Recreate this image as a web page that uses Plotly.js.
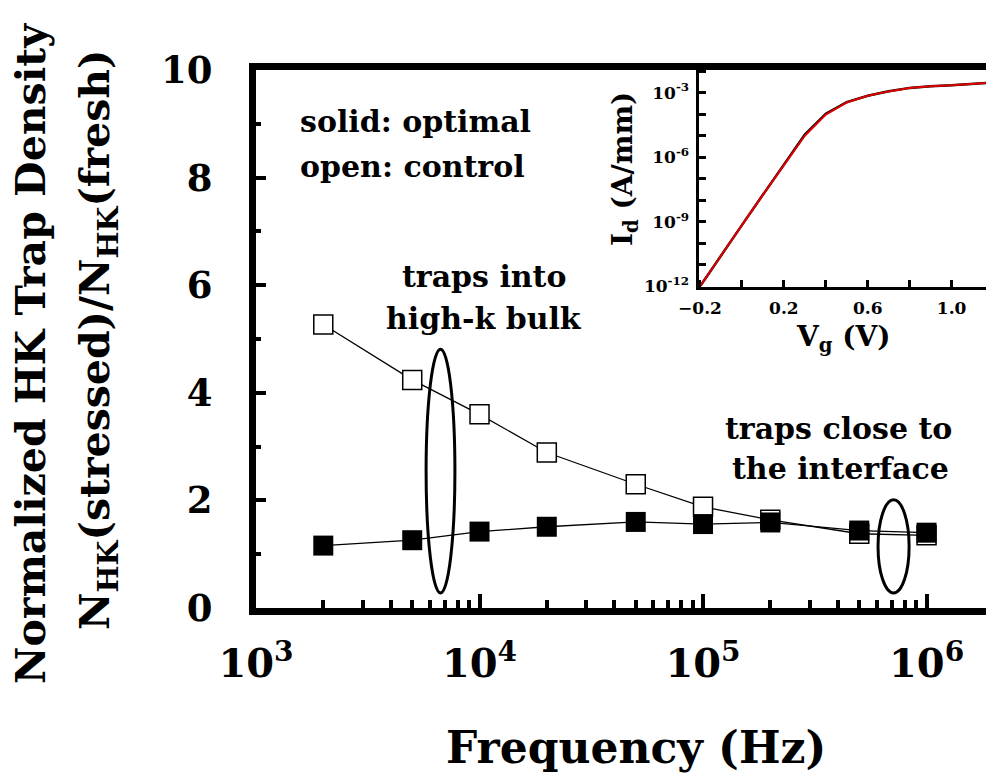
<!DOCTYPE html>
<html><head><meta charset="utf-8">
<script src="https://cdn.plot.ly/plotly-3.0.1.min.js"></script>
<style>html,body{margin:0;padding:0;background:#fff}#chart{width:986px;height:783px}</style>
</head><body><div id="chart"></div>
<script>
// Main chart data
const freqHz = [2e3, 5e3, 1e4, 2e4, 5e4, 1e5, 2e5, 5e5, 1e6];
const controlOpen = [5.27, 4.24, 3.60, 2.89, 2.30, 1.88, 1.64, 1.38, 1.35];
const optimalSolid = [1.16, 1.26, 1.42, 1.51, 1.60, 1.56, 1.59, 1.44, 1.40];
// Inset data (Id-Vg)
const insetVg = [-0.2, -0.1, 0.0, 0.1, 0.2, 0.3, 0.4, 0.5, 0.6, 0.7, 0.8, 0.9, 1.0, 1.1, 1.2];
const insetIdBlack = [1.0e-12, 2.5e-11, 7.1e-10, 1.8e-8, 4.5e-7, 1.12e-5, 1.05e-4, 3.6e-4, 7.2e-4, 1.15e-3, 1.66e-3, 2.0e-3, 2.2e-3, 2.6e-3, 2.95e-3];
const insetIdRed = [1.0e-12, 2.5e-11, 7.1e-10, 1.8e-8, 4.5e-7, 1.0e-5, 9.5e-5, 3.5e-4, 7.1e-4, 1.14e-3, 1.65e-3, 2.0e-3, 2.2e-3, 2.6e-3, 2.95e-3];
// Tick labels
const insetYTickVals = [1e-12, 1e-9, 1e-6, 1e-3];
const insetYTickText = ['10<sup>-12</sup>', '10<sup>-9</sup>', '10<sup>-6</sup>', '10<sup>-3</sup>'];

const FONT = 'DejaVu Serif';
const L = 256, T = 70, B = 175, W = 986, H = 783;
const PW = W - L, PH = H - T - B;
const px = X => (X - L) / PW;
const py = Y => (H - B - Y) / PH;

const traces = [
  {x: freqHz, y: controlOpen, type: 'scatter', mode: 'lines+markers', xaxis: 'x', yaxis: 'y',
   line: {color: 'black', width: 1.3},
   marker: {symbol: 'square', size: 19, color: 'white', line: {color: 'black', width: 1.5}}},
  {x: freqHz, y: optimalSolid, type: 'scatter', mode: 'lines+markers', xaxis: 'x', yaxis: 'y',
   line: {color: 'black', width: 1.3},
   marker: {symbol: 'square', size: 20, color: 'black', line: {width: 0}}},
  {x: insetVg, y: insetIdBlack, type: 'scatter', mode: 'lines', xaxis: 'x2', yaxis: 'y2',
   line: {color: 'black', width: 2.5}},
  {x: insetVg, y: insetIdRed, type: 'scatter', mode: 'lines', xaxis: 'x2', yaxis: 'y2',
   line: {color: '#e00000', width: 2}}
];

function ann(text, X, Y, size, opts) {
  return Object.assign({text: text, xref: 'paper', yref: 'paper', x: px(X), y: py(Y),
    xanchor: 'center', yanchor: 'middle', showarrow: false,
    font: {family: FONT, size: size, color: 'black', weight: 'bold'}}, opts || {});
}

const layout = {
  width: W, height: H,
  margin: {l: L, r: 0, t: T, b: B, pad: 0},
  paper_bgcolor: 'white', plot_bgcolor: 'white',
  font: {family: FONT, color: 'black', weight: 'bold'},
  showlegend: false,
  xaxis: {
    type: 'log', range: [3, 6.266], domain: [0, 1],
    showline: true, linewidth: 7, linecolor: 'black', mirror: true,
    ticks: 'inside', ticklen: 14, tickwidth: 4, tickcolor: 'black',
    dtick: 1, exponentformat: 'power',
    tickfont: {family: FONT, size: 32, color: 'black', weight: 'bold'},
    ticklabelstandoff: 16,
    showgrid: false, zeroline: false,
    minor: {ticks: 'inside', ticklen: 8, tickwidth: 4, tickcolor: 'black', dtick: 'D1', showgrid: false}
  },
  yaxis: {
    range: [0, 10], domain: [0, 1],
    showline: true, linewidth: 7, linecolor: 'black', mirror: false,
    ticks: 'inside', ticklen: 10, tickwidth: 4, tickcolor: 'black',
    dtick: 2, tick0: 0,
    tickfont: {family: FONT, size: 37, color: 'black', weight: 'bold'},
    ticklabelstandoff: 29,
    showgrid: false, zeroline: false,
    minor: {ticks: 'inside', ticklen: 5, tickwidth: 4, tickcolor: 'black', dtick: 1, showgrid: false}
  },
  xaxis2: {
    anchor: 'y2', domain: [px(698.5), 1], range: [-0.207, 1.164],
    showline: true, linewidth: 3, linecolor: 'black', mirror: false,
    ticks: 'inside', ticklen: 7, tickwidth: 3, tickcolor: 'black',
    tick0: -0.2, dtick: 0.4, tickformat: '.1f',
    tickfont: {family: FONT, size: 17, color: 'black', weight: 'bold'},
    ticklabelstandoff: 4,
    showgrid: false, zeroline: false,
    minor: {ticks: 'inside', ticklen: 7, tickwidth: 3, tickcolor: 'black', tick0: -0.2, dtick: 0.2, showgrid: false}
  },
  yaxis2: {
    anchor: 'x2', domain: [py(286.5), 1], type: 'log', range: [-12, -1.95],
    showline: true, linewidth: 3, linecolor: 'black', mirror: false,
    ticks: 'inside', ticklen: 7, tickwidth: 3, tickcolor: 'black',
    tickmode: 'array', tickvals: insetYTickVals, ticktext: insetYTickText,
    tickfont: {family: FONT, size: 17, color: 'black', weight: 'bold'},
    ticklabelstandoff: 3,
    showgrid: false, zeroline: false,
    minor: {ticks: 'inside', ticklen: 7, tickwidth: 3, tickcolor: 'black', dtick: 1, showgrid: false}
  },
  shapes: [
    {type: 'circle', xref: 'x', yref: 'y', x0: 5768, x1: 7762, y0: 0.28, y1: 4.81,
     line: {color: 'black', width: 3}},
    {type: 'circle', xref: 'x', yref: 'y', x0: 606700, x1: 835600, y0: 0.28, y1: 2.01,
     line: {color: 'black', width: 3}}
  ],
  annotations: [
    ann('solid: optimal', 298, 122, 30, {xanchor: 'left'}),
    ann('open: control', 298, 166, 30, {xanchor: 'left'}),
    ann('traps into', 484, 276, 30),
    ann('high-k bulk', 484, 318, 30),
    ann('traps close to', 838, 428, 30),
    ann('the interface', 840, 468, 30),
    ann('Frequency (Hz)', 636, 747, 44),
    ann('Normalized HK Trap Density', 31, 354, 41, {textangle: -90}),
    ann('N<sub>HK</sub>(stressed)/N<sub>HK</sub>(fresh)', 98, 340, 41, {textangle: -90}),
    ann('I<sub>d</sub> (A/mm)', 624, 169, 28, {textangle: -90}),
    ann('V<sub>g</sub> (V)', 843, 338, 28)
  ]
};

Plotly.newPlot('chart', traces, layout, {displayModeBar: false, staticPlot: true});
</script>
</body></html>
